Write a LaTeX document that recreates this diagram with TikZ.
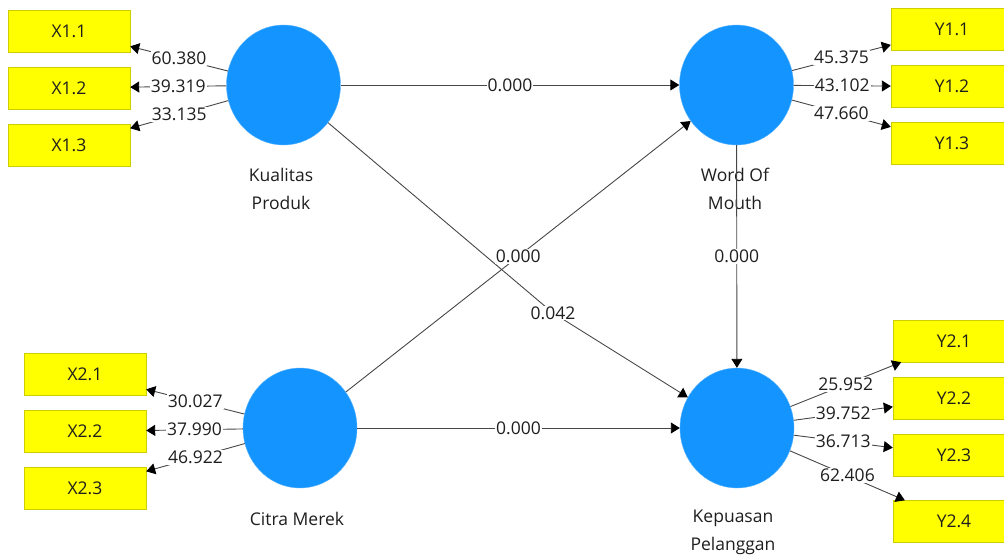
\documentclass[tikz,border=0pt]{standalone}
\usepackage{fontspec}
\setmainfont{Open Sans}
\usetikzlibrary{arrows.meta,shapes.geometric}
\definecolor{lvblue}{RGB}{20,148,255}
\definecolor{mvyellow}{RGB}{255,255,0}
\definecolor{mvborder}{RGB}{205,205,0}
\definecolor{txt}{RGB}{30,30,30}
\begin{document}
\begin{tikzpicture}[x=1pt,y=-1pt,
 latent/.style={ellipse, fill=lvblue, draw=lvblue!70!white, minimum width=114pt, minimum height=120pt, inner sep=0pt},
 manifest/.style={rectangle, fill=mvyellow, draw=mvborder, minimum width=122pt, minimum height=42pt, inner sep=0pt, text=txt, font=\fontsize{17.5}{21}\selectfont},
 lvname/.style={align=center, text=txt, font=\fontsize{17.5}{28}\selectfont},
 link/.style={draw=black!72, line width=0.9pt, -{Triangle[length=9pt,width=11pt,fill=black,color=black]}},
 val/.style={fill=white, inner sep=1pt, text=txt, font=\fontsize{17.5}{21}\selectfont}
]
\useasboundingbox (0,0) rectangle (1004,557);
\clip (0,0) rectangle (1004,557);

% latent variable names
\node[lvname] (tkp) at (281,189) {Kualitas\\Produk};
\node[lvname] (twom) at (735,189) {Word Of\\Mouth};
\node[lvname] (tcm) at (297,519) {Citra Merek};
\node[lvname] (tkep) at (733,532.5) {Kepuasan\\Pelanggan};

% latent variables
\node[latent] (kp) at (283.5,85) {};
\node[latent] (wom) at (736.5,85) {};
\node[latent] (cm) at (300,428) {};
\node[latent] (kep) at (737,428) {};

% indicators
\node[manifest] (x11) at (69,31) {X1.1};
\node[manifest] (x12) at (69,88) {X1.2};
\node[manifest] (x13) at (69,145.5) {X1.3};
\node[manifest] (x21) at (85,374) {X2.1};
\node[manifest] (x22) at (85,431.5) {X2.2};
\node[manifest] (x23) at (85,488.5) {X2.3};
\node[manifest] (y11) at (952,29) {Y1.1};
\node[manifest] (y12) at (952,86.5) {Y1.2};
\node[manifest] (y13) at (952,143.5) {Y1.3};
\node[manifest] (y21) at (954,341) {Y2.1};
\node[manifest] (y22) at (954,398.5) {Y2.2};
\node[manifest] (y23) at (954,455.5) {Y2.3};
\node[manifest] (y24) at (954,521.5) {Y2.4};

% outer model
\draw[link] (kp) -- node[val] {60.380} (x11);
\draw[link] (kp) -- node[val] {39.319} (x12);
\draw[link] (kp) -- node[val] {33.135} (x13);
\draw[link] (cm) -- node[val] {30.027} (x21);
\draw[link] (cm) -- node[val] {37.990} (x22);
\draw[link] (cm) -- node[val] {46.922} (x23);
\draw[link] (wom) -- node[val] {45.375} (y11);
\draw[link] (wom) -- node[val] {43.102} (y12);
\draw[link] (wom) -- node[val] {47.660} (y13);
\draw[link] (kep) -- node[val] {25.952} (y21);
\draw[link] (kep) -- node[val] {39.752} (y22);
\draw[link] (kep) -- node[val] {36.713} (y23);
\draw[link] (kep) -- node[val] {62.406} (y24);

% inner model
\draw[link] (kp) -- node[val] {0.000} (wom);
\coordinate (b042) at (553,313);
\draw[link] (kp) -- (b042) -- (kep);
\node[val] (l042) at (b042) {0.042};
\draw[link] (cm) -- node[val] {0.000} (wom);
\draw[link] (cm) -- node[val] {0.000} (kep);
\draw[link] (wom) -- node[val] {0.000} (kep);
\end{tikzpicture}
\end{document}
